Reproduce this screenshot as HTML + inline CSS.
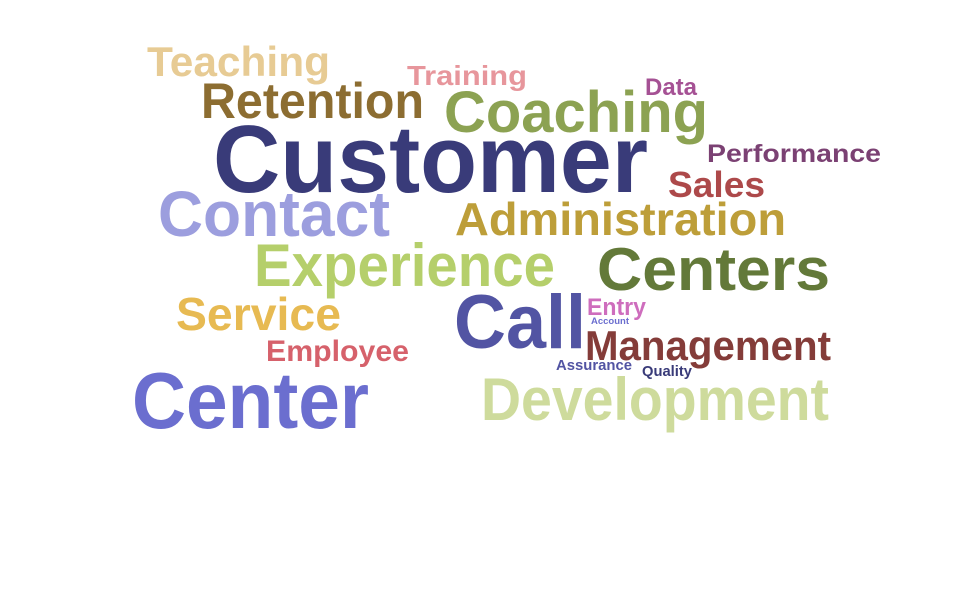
<!DOCTYPE html>
<html><head><meta charset="utf-8"><style>
html,body{margin:0;padding:0;background:#fff;}
svg{display:block;}
text{font-family:"Liberation Sans",sans-serif;font-weight:bold;}
</style></head><body>
<svg id="cloud" width="960" height="600" viewBox="0 0 960 600"></svg>
<script>
const words = ["Teaching","Training","Data","Retention","Coaching","Customer","Performance","Sales","Contact","Administration","Experience","Centers","Service","Call","Entry","Account","Employee","Management","Assurance","Quality","Center","Development"];
const sizes = [42,28,24,50,58,96,25,36,64,46,60,60,46,76,24,9,30,42,15,15,80,60];
const colors = ["#e7cb94","#e7969c","#a55194","#8c6d31","#8ca252","#393b79","#7b4173","#ad494a","#9c9ede","#bd9e39","#b5cf6b","#637939","#e7ba52","#5254a3","#ce6dbd","#6b6ecf","#d6616b","#843c39","#5254a3","#393b79","#6b6ecf","#cedb9c"];
const xs = [147,407,645,201,444,213,707,668,158,455,254,597,176,454,587,591,266,585,556,642,132,481];
const ys = [76,85,95,118,132,192,162,197,236,235,286,290,330,348,315,324,361,360,370,376,428,420];
const widths = [183,120,52,223,264,435,174,97,232,331,301,233,165,132,59,38,143,246,76,50,237,348];
const svg = document.getElementById('cloud');
const NS = 'http://www.w3.org/2000/svg';
words.forEach((w,i)=>{
  const t = document.createElementNS(NS,'text');
  t.setAttribute('x', xs[i]);
  t.setAttribute('y', ys[i]);
  t.setAttribute('font-size', sizes[i]);
  t.setAttribute('fill', colors[i]);
  t.setAttribute('textLength', widths[i]);
  t.setAttribute('lengthAdjust', 'spacingAndGlyphs');
  t.textContent = w;
  
  
  svg.appendChild(t);
});
</script>
</body></html>
